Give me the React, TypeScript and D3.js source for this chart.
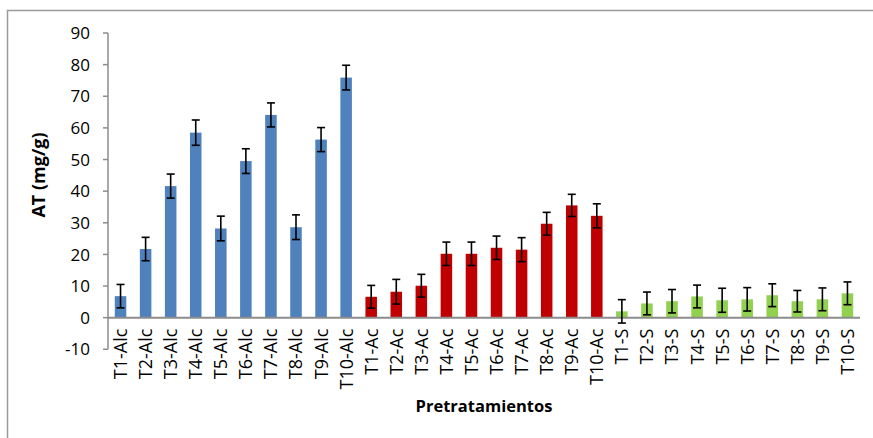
import React from "react";
import * as d3 from "d3";

const alcLabels = ["T1-Alc","T2-Alc","T3-Alc","T4-Alc","T5-Alc","T6-Alc","T7-Alc","T8-Alc","T9-Alc","T10-Alc"];
const acLabels = ["T1-Ac","T2-Ac","T3-Ac","T4-Ac","T5-Ac","T6-Ac","T7-Ac","T8-Ac","T9-Ac","T10-Ac"];
const sLabels = ["T1-S","T2-S","T3-S","T4-S","T5-S","T6-S","T7-S","T8-S","T9-S","T10-S"];

const alcValues = [6.8, 21.7, 41.6, 58.5, 28.2, 49.5, 64.1, 28.6, 56.3, 75.9];
const acValues = [6.6, 8.2, 10.1, 20.2, 20.2, 22.1, 21.5, 29.7, 35.5, 32.2];
const sValues = [2.0, 4.5, 5.2, 6.7, 5.5, 5.8, 7.1, 5.2, 5.8, 7.7];

const alcErrors = [3.7, 3.7, 3.8, 4.0, 3.9, 3.9, 3.8, 3.9, 3.8, 3.9];
const acErrors = [3.6, 3.9, 3.6, 3.7, 3.7, 3.7, 3.8, 3.6, 3.5, 3.8];
const sErrors = [3.7, 3.6, 3.7, 3.6, 3.8, 3.7, 3.6, 3.4, 3.6, 3.6];

const yTicks = [-10, 0, 10, 20, 30, 40, 50, 60, 70, 80, 90];

const colors = { alc: "#4F81BD", ac: "#C00000", s: "#92D050" };

type Bar = { label: string; value: number; err: number; color: string };

const bars: Bar[] = [
  ...alcLabels.map((l, i) => ({ label: l, value: alcValues[i], err: alcErrors[i], color: colors.alc })),
  ...acLabels.map((l, i) => ({ label: l, value: acValues[i], err: acErrors[i], color: colors.ac })),
  ...sLabels.map((l, i) => ({ label: l, value: sValues[i], err: sErrors[i], color: colors.s })),
];

const FONT = "'Open Sans', 'Noto Sans', sans-serif";

export default function App() {
  const W = 873, H = 438;
  const x0 = 108, x1 = 860;
  const y = d3.scaleLinear().domain([-10, 90]).range([349.3, 33]);
  const x = d3.scaleBand<string>().domain(bars.map(b => b.label)).range([x0, x1]).paddingInner(0.54).paddingOuter(0.27);
  const bw = x.bandwidth();
  const axisColor = "#8c8c8c";
  const zeroY = y(0);

  return (
    <svg width={W} height={H} style={{ position: "absolute", left: 0, top: 0, background: "#fff" }} fontFamily={FONT}>
      <rect x={7.5} y={10.5} width={W} height={H} fill="#fff" stroke="#9a9a9a" strokeWidth={1.5} />
      {/* y axis */}
      <line x1={x0} x2={x0} y1={y(90)} y2={y(-10)} stroke={axisColor} strokeWidth={1.5} />
      {yTicks.map(t => (
        <g key={t}>
          <line x1={x0 - 5} x2={x0} y1={y(t)} y2={y(t)} stroke={axisColor} strokeWidth={1.5} />
          <text x={x0 - 18} y={y(t)} dy="0.36em" textAnchor="end" fontSize={17} fill="#000">{t}</text>
        </g>
      ))}
      {/* bars */}
      {bars.map(b => {
        const bx = x(b.label)!;
        return (
          <rect key={b.label} x={bx} y={Math.min(y(b.value), zeroY)} width={bw} height={Math.abs(zeroY - y(b.value))} fill={b.color} />
        );
      })}
      {/* x axis line */}
      <line x1={x0} x2={x1} y1={zeroY} y2={zeroY} stroke={axisColor} strokeWidth={2} />
      {/* error bars */}
      {bars.map(b => {
        const cx = x(b.label)! + bw / 2;
        const yt = y(b.value + b.err), yb = y(b.value - b.err);
        return (
          <g key={"e" + b.label} stroke="#000" strokeWidth={1.6}>
            <line x1={cx} x2={cx} y1={yt} y2={yb} />
            <line x1={cx - 4} x2={cx + 4} y1={yt} y2={yt} />
            <line x1={cx - 4} x2={cx + 4} y1={yb} y2={yb} />
          </g>
        );
      })}
      {/* category labels */}
      {bars.map(b => {
        const cx = x(b.label)! + bw / 2;
        return (
          <text key={"l" + b.label} transform={`translate(${cx},${zeroY + 11}) rotate(-90)`} textAnchor="end" dy="0.36em" fontSize={18} fill="#000">{b.label}</text>
        );
      })}
      <text transform={`translate(39,175) rotate(-90)`} textAnchor="middle" dy="0.36em" fontSize={18} fontWeight="bold" fill="#000">AT (mg/g)</text>
      <text x={484} y={412} textAnchor="middle" fontSize={16.5} fontWeight="bold" fill="#000">Pretratamientos</text>
    </svg>
  );
}
